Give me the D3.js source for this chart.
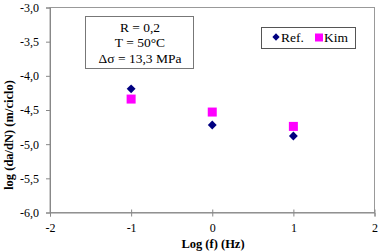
<!DOCTYPE html>
<html lang="en">
<head>
  <meta charset="UTF-8">
  <title>log (da/dN) vs Log (f)</title>
  <style>
    body { margin: 0; background: #fff; }
    svg text { font-family: "Liberation Serif", "Times New Roman", serif; fill: #000; }
    .tick text { font-size: 12px; }
    .title { font-size: 12.5px; font-weight: bold; }
  </style>
</head>
<body>
  <div id="chart"></div>
  <script src="https://d3js.org/d3.v7.min.js"></script>
  <script>
    // data
    const freqs = [-1, 0, 1];
    const refValues = [-4.19, -4.72, -4.88];
    const kimValues = [-4.34, -4.53, -4.74];
    const xTicks = [-2, -1, 0, 1, 2];
    const yTicks = [-3.0, -3.5, -4.0, -4.5, -5.0, -5.5, -6.0];
    const noteLines = ["R = 0,2", "T = 50°C", "Δσ = 13,3 MPa"];

    const WIDTH = 380, HEIGHT = 251;
    const PLOT = { left: 50, right: 374.5, top: 7.5, bottom: 212.5 };

    const x = d3.scaleLinear().domain([-2, 2]).range([PLOT.left, PLOT.right]);
    const y = d3.scaleLinear().domain([-6, -3]).range([PLOT.bottom, PLOT.top]);

    const svg = d3.select('#chart').append('svg')
      .attr('width', WIDTH)
      .attr('height', HEIGHT)
      .style('display', 'block');

    // plot frame
    svg.append('rect')
      .attr('x', PLOT.left).attr('y', PLOT.top)
      .attr('width', PLOT.right - PLOT.left).attr('height', PLOT.bottom - PLOT.top)
      .attr('fill', 'none').attr('stroke', '#999').attr('stroke-width', 1);

    const fmt = d => d3.format('.1f')(d).replace('.', ',').replace('−', '-');

    const yAxis = svg.append('g')
      .attr('transform', `translate(${PLOT.left},0)`)
      .call(d3.axisLeft(y).tickValues(yTicks).tickSize(4).tickPadding(7).tickFormat(fmt));
    yAxis.attr('font-family', null).attr('font-size', null);
    yAxis.select('.domain').attr('stroke', '#888');
    yAxis.selectAll('.tick line').attr('stroke', '#888');

    const xAxis = svg.append('g')
      .attr('transform', `translate(0,${PLOT.bottom})`)
      .call(d3.axisBottom(x).tickValues(xTicks).tickSize(4).tickFormat(d => d < 0 ? '-' + Math.abs(d) : String(d)));
    xAxis.attr('font-family', null).attr('font-size', null);
    xAxis.select('.domain').attr('stroke', '#888');
    xAxis.selectAll('.tick line').attr('stroke', '#888').attr('y1', -3);
    xAxis.selectAll('.tick text').attr('y', 19.5).attr('dy', null);

    // axis titles
    svg.append('text')
      .attr('class', 'title')
      .attr('x', 213).attr('y', 248)
      .attr('text-anchor', 'middle')
      .text('Log (f) (Hz)');

    svg.append('text')
      .attr('class', 'title')
      .attr('transform', `translate(12.5,135) rotate(-90)`)
      .attr('text-anchor', 'middle')
      .text('log (da/dN) (m/ciclo)');

    // series
    svg.selectAll('rect.kim')
      .data(freqs)
      .enter()
      .append('rect')
        .attr('class', 'kim')
        .attr('x', (d) => x(d) - 4.5)
        .attr('y', (d, i) => y(kimValues[i]) - 4.5)
        .attr('width', 9).attr('height', 9)
        .attr('fill', '#ff00ff');

    svg.selectAll('path.ref')
      .data(freqs)
      .enter()
      .append('path')
        .attr('class', 'ref')
        .attr('d', d3.symbol(d3.symbolDiamond2, 50))
        .attr('transform', (d, i) => `translate(${x(d)},${y(refValues[i])})`)
        .attr('fill', '#000080');

    // annotation box
    const note = svg.append('g');
    note.append('rect')
      .attr('x', 85.5).attr('y', 16.5).attr('width', 108).attr('height', 52)
      .attr('fill', '#fff').attr('stroke', '#777');
    note.selectAll('text')
      .data(noteLines)
      .enter()
      .append('text')
        .attr('x', 140)
        .attr('y', (d, i) => 31.5 + i * 15.5)
        .attr('text-anchor', 'middle')
        .attr('font-size', 13.5)
        .text(d => d);

    // legend
    const legend = svg.append('g');
    legend.append('rect')
      .attr('x', 261.5).attr('y', 27.5).attr('width', 94).attr('height', 21)
      .attr('fill', '#fff').attr('stroke', '#555');
    legend.append('path')
      .attr('d', d3.symbol(d3.symbolDiamond2, 34))
      .attr('transform', 'translate(276,37)')
      .attr('fill', '#000080');
    legend.append('text')
      .attr('x', 281).attr('y', 41.5).attr('font-size', 13.5).text('Ref.');
    legend.append('rect')
      .attr('x', 315).attr('y', 33.5).attr('width', 8).attr('height', 8)
      .attr('fill', '#ff00ff');
    legend.append('text')
      .attr('x', 324).attr('y', 41.5).attr('font-size', 13.5).text('Kim');
  </script>
</body>
</html>
